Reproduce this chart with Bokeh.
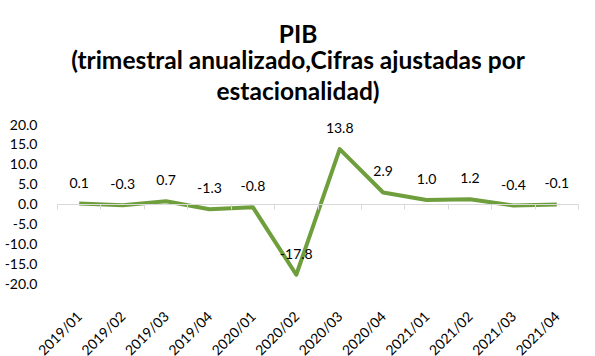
import math
import numpy as np
from bokeh.plotting import figure
from bokeh.models import (Range1d, LinearAxis, FixedTicker, Title,
                          ColumnDataSource, NumeralTickFormatter)
from bokeh.core.properties import value
from bokeh.embed import file_html
from bokeh.resources import INLINE

# ---- data ----
quarters = ["2019/01", "2019/02", "2019/03", "2019/04", "2020/01", "2020/02",
            "2020/03", "2020/04", "2021/01", "2021/02", "2021/03", "2021/04"]
pib = [0.1, -0.3, 0.7, -1.3, -0.8, -17.8, 13.8, 2.9, 1.0, 1.2, -0.4, -0.1]
y_ticks = [-20, -15, -10, -5, 0, 5, 10, 15, 20]
title_lines = ["PIB",
               "(trimestral anualizado,Cifras ajustadas por",
               "estacionalidad)"]

FONT = "Lato"
GREEN = "#6F9E3D"
GRAY = "#D9D9D9"

# layout (pixels)
W, H = 595, 356
PLOT_L, PLOT_R = 57, 578            # left / right edge of category area
Y_TOP, Y_BOT = 124, 283             # pixel rows of the top (20) and bottom (-20) ticks
FRAME_TOP = 104
n = len(quarters)
px_per_cat = (PLOT_R - PLOT_L) / n
px_per_unit = (Y_BOT - Y_TOP) / (y_ticks[-1] - y_ticks[0])

idx = list(range(n))
src = ColumnDataSource(dict(x=idx, y=pib, lab=[f"{v:.1f}" for v in pib]))

p = figure(width=W, height=H, title=None,
           x_range=Range1d(-0.5 - PLOT_L / px_per_cat, n - 0.5 + (W - PLOT_R) / px_per_cat),
           y_range=Range1d(y_ticks[0] - (H - Y_BOT) / px_per_unit,
                           y_ticks[-1] + (Y_TOP - FRAME_TOP) / px_per_unit),
           output_backend="svg", toolbar_location=None,
           x_axis_location=None, y_axis_location=None,
           min_border_left=0, min_border_right=0,
           min_border_top=FRAME_TOP, min_border_bottom=0)
p.outline_line_color = None
p.grid.visible = False
p.background_fill_color = "white"
p.border_fill_color = "white"

# titles (added bottom line first, stacked outward)
standoffs = [0, 0, -10]   # for line 3, line 2, line 1
for t, so in zip(reversed(title_lines), standoffs):
    tt = Title(text=t, align="center", text_font=FONT, text_font_style="bold",
               text_font_size="24.5px", text_color="black", standoff=so)
    p.add_layout(tt, "above")

# y axis at left edge of category area
yax = LinearAxis(fixed_location=-0.5, ticker=FixedTicker(ticks=y_ticks),
                 formatter=NumeralTickFormatter(format="0.0"))
yax.axis_line_color = None
yax.major_tick_line_color = None
yax.minor_tick_line_color = None
yax.major_label_standoff = 14
yax.major_label_text_font = FONT
yax.major_label_text_font_size = "14px"
yax.major_label_text_color = "black"
p.add_layout(yax, "left")

# zero axis line with category boundary ticks
bounds = [float(b) for b in np.arange(n + 1) - 0.5]
zax = LinearAxis(fixed_location=0, ticker=FixedTicker(ticks=bounds),
                 bounds=(bounds[0], bounds[-1]))
zax.axis_line_color = GRAY
zax.major_tick_line_color = GRAY
zax.major_tick_in = 0
zax.major_tick_out = 5
zax.minor_tick_line_color = None
zax.major_label_text_alpha = 0
zax.major_label_text_font_size = "1px"
p.add_layout(zax, "below")

# x axis (category labels) below the lowest value tick
xax = LinearAxis(fixed_location=y_ticks[0], ticker=FixedTicker(ticks=idx),
                 major_label_overrides={i: q for i, q in enumerate(quarters)})
xax.axis_line_color = None
xax.major_tick_line_color = None
xax.minor_tick_line_color = None
xax.major_label_orientation = math.pi / 4
xax.major_label_standoff = 24
xax.major_label_text_font = FONT
xax.major_label_text_font_size = "14px"
xax.major_label_text_color = "black"
p.add_layout(xax, "below")

# series
p.line("x", "y", source=src, line_color=GREEN, line_width=4, line_join="round")
p.text("x", "y", text="lab", source=src, y_offset=-21, text_align="center",
       text_baseline="middle", text_font=value(FONT), text_font_size="14px",
       text_color="black")

open("out.html", "w").write(file_html(p, INLINE))
